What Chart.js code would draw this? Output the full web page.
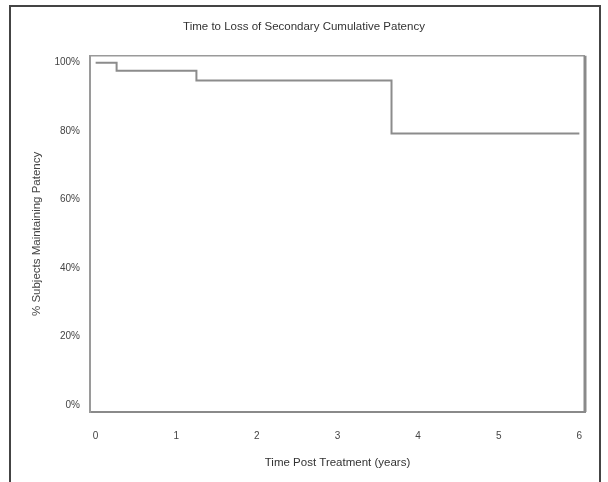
<!DOCTYPE html>
<html>
<head>
<meta charset="utf-8">
<script src="https://cdn.jsdelivr.net/npm/chart.js@4/dist/chart.umd.min.js"></script>
<style>
  html, body { margin: 0; padding: 0; background: #fff; }
  #wrap { position: relative; width: 608px; height: 482px; overflow: hidden; }
  #frame {
    position: absolute; left: 9px; top: 5px; width: 588px; height: 500px;
    border: 2px solid #444; border-bottom: none; pointer-events: none;
  }
</style>
</head>
<body>
<div id="wrap">
  <canvas id="kmChart" width="608" height="482"></canvas>
  <div id="frame"></div>
</div>
<script>
// Kaplan-Meier veri noktaları (yıl, % hasta)
const years = [0, 0.26, 1.25, 3.67, 6.0];
const patency = [100, 97.6, 94.8, 79.3, 79.3];
const xTicks = [0, 1, 2, 3, 4, 5, 6];
const yTicks = [0, 20, 40, 60, 80, 100];

const fontFamily = "'Liberation Sans', Arial, sans-serif";

// Çizim alanının etrafına kutu çiz
const boxPlugin = {
    id: 'plotBox',
    afterDatasetsDraw(chart) {
        const a = chart.chartArea;
        const c = chart.ctx;
        c.save();
        c.strokeStyle = '#9a9a9a';
        c.lineWidth = 1.5;
        c.beginPath();
        c.moveTo(a.left, a.top);
        c.lineTo(a.right, a.top);
        c.stroke();
        c.strokeStyle = '#8a8a8a';
        c.lineWidth = 3;
        c.beginPath();
        c.moveTo(a.right, a.top);
        c.lineTo(a.right, a.bottom);
        c.stroke();
        c.restore();
    }
};

const ctx = document.getElementById('kmChart');
new Chart(ctx, {
    type: 'line',
    data: {
        datasets: [{
            data: years.map((t, i) => ({ x: t, y: patency[i] })),
            stepped: true,
            borderColor: '#8c8c8c',
            borderWidth: 2,
            pointRadius: 0,
            fill: false
        }]
    },
    options: {
        responsive: false,
        animation: false,
        layout: { padding: 0 },
        plugins: {
            legend: { display: false },
            tooltip: { enabled: false },
            title: {
                display: true,
                text: 'Time to Loss of Secondary Cumulative Patency',
                color: '#333',
                font: { family: fontFamily, size: 11.5, weight: 'normal', lineHeight: 1.2 },
                padding: { top: 20, bottom: 22 }
            }
        },
        scales: {
            x: {
                type: 'linear',
                min: -0.07,
                max: 6.07,
                afterBuildTicks: s => { s.ticks = xTicks.map(v => ({ value: v })); },
                afterFit: s => { s.height = 70; },
                grid: { display: false, drawTicks: false },
                border: { display: true, color: '#8a8a8a', width: 2 },
                ticks: {
                    color: '#444',
                    padding: 18,
                    maxRotation: 0,
                    autoSkip: false,
                    font: { family: fontFamily, size: 10 }
                },
                title: {
                    display: true,
                    text: 'Time Post Treatment (years)',
                    color: '#333',
                    font: { family: fontFamily, size: 11.5 },
                    padding: { top: 0, bottom: 12 }
                }
            },
            y: {
                type: 'linear',
                min: -2,
                max: 102,
                afterBuildTicks: s => { s.ticks = yTicks.map(v => ({ value: v })); },
                afterFit: s => { s.width = 90; },
                grid: { display: false, drawTicks: false },
                border: { display: true, color: '#9a9a9a', width: 2 },
                ticks: {
                    color: '#444',
                    padding: 10,
                    font: { family: fontFamily, size: 10 },
                    callback: v => v + '%'
                },
                title: {
                    display: true,
                    text: '% Subjects Maintaining Patency',
                    color: '#444',
                    font: { family: fontFamily, size: 11.5 },
                    padding: { top: 30, bottom: 0 }
                }
            },
            // sağ tarafta boşluk bırakmak için görünmez eksen
            yRight: {
                type: 'linear',
                position: 'right',
                min: 0,
                max: 1,
                afterFit: s => { s.width = 23; },
                grid: { display: false, drawTicks: false },
                border: { display: false },
                ticks: { display: false }
            }
        }
    },
    plugins: [boxPlugin]
});
</script>
</body>
</html>
